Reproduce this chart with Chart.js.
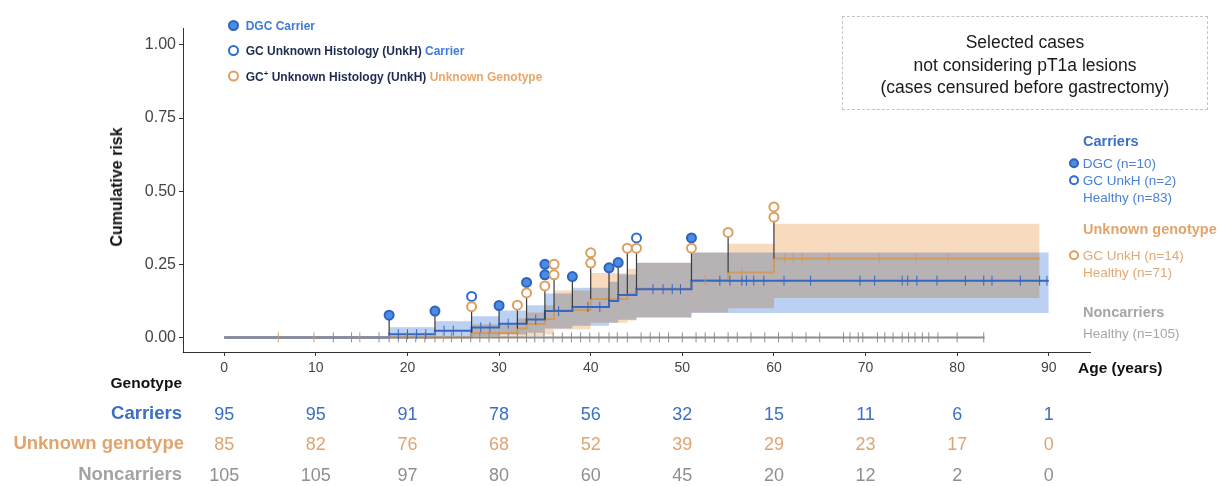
<!DOCTYPE html>
<html>
<head>
<meta charset="utf-8">
<title>Cumulative risk by genotype</title>
<script src="https://cdn.jsdelivr.net/npm/chart.js@4.4.1/dist/chart.umd.min.js"></script>
<style>
  html, body { margin: 0; padding: 0; background: #fff; }
  #wrap { position: relative; width: 1218px; height: 486px; overflow: hidden;
          font-family: 'Liberation Sans', Arial, sans-serif; }
  #km { position: absolute; left: 0; top: 0; }
  .t { position: absolute; white-space: nowrap; line-height: 1; transform: translateY(-50%); }
  .r { transform: translate(-100%, -50%); text-align: right; }
  .c { transform: translate(-50%, -50%); text-align: center; }
  .b { font-weight: bold; }
  .dot { display: inline-block; box-sizing: border-box; width: 11px; height: 11px; border-radius: 50%;
         border: 2px solid; vertical-align: middle; margin-top: -2px; }
  .dgc { background: #4b8be3; border-color: #2c63bd; }
  .unkb { background: #fff; border-color: #2f6cd0; }
  .unko { background: #fff; border-color: #dd9f60; }
  #note { position: absolute; left: 842px; top: 16px; width: 366px; height: 94px; box-sizing: border-box;
          border: 1px dashed #c4c4c4; text-align: center; font-size: 17.5px; line-height: 22.5px;
          color: #1a1a1a; padding-top: 14px; }
  #ytitle { position: absolute; left: 117px; top: 187px; transform: translate(-50%, -50%) rotate(-90deg);
            font-weight: bold; font-size: 16px; white-space: nowrap; color: #111; }
</style>
</head>
<body>
<div id="wrap">
  <canvas id="km" width="1218" height="486"></canvas>

  <div id="ytitle">Cumulative risk</div>

  <!-- marker key, top left -->
  <div class="t b" style="left:228px;top:26px;font-size:12px;color:#3d7bd9"><span class="dot dgc"></span>&nbsp; DGC Carrier</div>
  <div class="t b" style="left:228px;top:51px;font-size:12px;color:#1c2b4f"><span class="dot unkb"></span>&nbsp; GC Unknown Histology (UnkH) <span style="color:#3d7bd9">Carrier</span></div>
  <div class="t b" style="left:228px;top:76px;font-size:12px;color:#1c2b4f"><span class="dot unko"></span>&nbsp; GC<sup style="font-size:8px">+</sup> Unknown Histology (UnkH) <span style="color:#e8a76a">Unknown Genotype</span></div>

  <div id="note">Selected cases<br>not considering pT1a lesions<br>(cases censured before gastrectomy)</div>

  <!-- group key, right -->
  <div class="t b" style="left:1083px;top:141px;font-size:14.5px;color:#3b6fc8">Carriers</div>
  <div class="t" style="left:1069px;top:164px;font-size:13.5px;color:#4a80d6"><span class="dot dgc" style="width:10px;height:10px"></span> DGC (n=10)</div>
  <div class="t" style="left:1069px;top:181px;font-size:13.5px;color:#4a80d6"><span class="dot unkb" style="width:10px;height:10px"></span> GC UnkH (n=2)</div>
  <div class="t" style="left:1083px;top:198px;font-size:13.5px;color:#4a80d6">Healthy (n=83)</div>
  <div class="t b" style="left:1083px;top:229px;font-size:14.5px;color:#e1a56d">Unknown genotype</div>
  <div class="t" style="left:1069px;top:256px;font-size:13.5px;color:#e3a872"><span class="dot unko" style="width:10px;height:10px"></span> GC UnkH (n=14)</div>
  <div class="t" style="left:1083px;top:273px;font-size:13.5px;color:#e3a872">Healthy (n=71)</div>
  <div class="t b" style="left:1083px;top:312px;font-size:14.5px;color:#a6a6a6">Noncarriers</div>
  <div class="t" style="left:1083px;top:334px;font-size:13.5px;color:#a6a6a6">Healthy (n=105)</div>

  <div class="t b" style="left:1078px;top:368px;font-size:15.5px;color:#111">Age (years)</div>

  <!-- numbers at risk -->
  <div class="t r b" style="left:182px;top:383px;font-size:15.5px;color:#111">Genotype</div>
  <div class="t r b" style="left:182px;top:413px;font-size:18.5px;color:#3b6fc8">Carriers</div>
  <div class="t r b" style="left:184px;top:443px;font-size:18.5px;color:#e1a46c">Unknown genotype</div>
  <div class="t r b" style="left:182px;top:474px;font-size:18.5px;color:#a3a3a3">Noncarriers</div>
  <div id="risk"></div>
</div>

<script>
// axis ticks
const xTicks = [0, 10, 20, 30, 40, 50, 60, 70, 80, 90];
const yTicks = [0, 0.25, 0.5, 0.75, 1];

// numbers at risk, one value per x tick
const riskTimes = [0, 10, 20, 30, 40, 50, 60, 70, 80, 90];
const riskCarriers = [95, 95, 91, 78, 56, 32, 15, 11, 6, 1];
const riskUnknown = [85, 82, 76, 68, 52, 39, 29, 23, 17, 0];
const riskNoncarriers = [105, 105, 97, 80, 60, 45, 20, 12, 2, 0];

// cumulative risk curves (value holds from each age to the next)
const carrierAges = [0, 18, 23, 27, 30, 33, 35, 38, 42, 43, 45, 51, 90];
const carrierRisk = [0, 0.011, 0.023, 0.034, 0.047, 0.061, 0.090, 0.104, 0.124, 0.145, 0.165, 0.194, 0.194];
const unknownAges = [0, 27, 32, 33, 35, 36, 40, 44, 45, 51, 55, 60, 89];
const unknownRisk = [0, 0.015, 0.030, 0.046, 0.062, 0.094, 0.131, 0.149, 0.167, 0.196, 0.222, 0.270, 0.270];
const nonAges = [0, 83];
const nonRisk = [0, 0];

// 95% confidence bands
const carrierBandAges = [18, 23, 27, 30, 33, 35, 38, 42, 43, 45, 51, 90];
const carrierLower = [0, 0, 0.004, 0.010, 0.016, 0.030, 0.040, 0.050, 0.060, 0.068, 0.083, 0.083];
const carrierUpper = [0.035, 0.055, 0.072, 0.092, 0.110, 0.150, 0.170, 0.190, 0.215, 0.255, 0.290, 0.290];
const unknownBandAges = [27, 32, 33, 35, 36, 40, 44, 45, 51, 55, 60, 89];
const unknownLower = [0, 0, 0.004, 0.010, 0.028, 0.050, 0.058, 0.068, 0.085, 0.100, 0.135, 0.135];
const unknownUpper = [0.045, 0.065, 0.085, 0.110, 0.160, 0.220, 0.235, 0.255, 0.290, 0.320, 0.389, 0.389];

// censoring ages
const carrierCensor = [19, 20, 21, 22, 24, 25, 28, 29, 31, 32, 34, 36.5, 39.7, 41, 46.8, 47.9, 48.9, 49.8,
  54.1, 55.2, 56.5, 57, 57.8, 58.9, 61.1, 64, 69.4, 71, 74, 74.6, 75.6, 77.8, 80.9, 82.9, 83.8, 86.9, 89, 89.8];
const unknownCensor = [5.9, 9.8, 14.8, 23.9, 52.5, 56.5, 61.2, 62.1, 63.1, 66, 71.5, 75.5, 79];
const nonCensor = [11.9, 13.9, 16.9, 18, 19, 19.9, 20.9, 21.9, 23, 24.8, 25.9, 26.9, 27.9, 28.9, 30, 31, 32,
  33, 33.9, 34.9, 35.9, 36.9, 37.9, 38.9, 39.9, 40.9, 42, 42.9, 44, 45.5, 46.5, 47.5, 48.5, 50, 51.5, 52.5,
  53.5, 55, 56, 57.5, 59, 60.5, 62, 63.5, 65, 67.6, 68.3, 69.2, 69.7, 71.3, 72.1, 73, 74, 74.7, 75.4, 76.2,
  76.9, 77.9, 80, 82.9];

// gastric cancer events, stacked above the curves
const dgcAges = [18, 23, 30, 33, 35, 35, 38, 42, 43, 51];
const dgcY = [0.076, 0.090, 0.109, 0.188, 0.214, 0.250, 0.208, 0.238, 0.256, 0.340];
const unkhCarrierAges = [27, 45];
const unkhCarrierY = [0.140, 0.340];
const unkhUnknownAges = [27, 32, 33, 35, 36, 36, 40, 40, 44, 45, 51, 55, 60, 60];
const unkhUnknownY = [0.105, 0.110, 0.152, 0.176, 0.214, 0.250, 0.254, 0.289, 0.305, 0.305, 0.305, 0.359, 0.411, 0.446];

const BLUE = '#3567c4';
const ORANGE = '#d39a5e';
const GREY = '#8c8c8c';

const pts = (xs, ys) => xs.map((x, i) => ({ x, y: ys[i] }));

function stepAt(ages, vals, t) {
  let v = vals[0];
  for (let i = 0; i < ages.length; i++) if (ages[i] <= t) v = vals[i];
  return v;
}

const censorPts = (cens, ages, vals) => cens.map(t => ({ x: t, y: stepAt(ages, vals, t) }));

// stems: from the curve after the jump up to the lowest marker at that age
function buildStems() {
  const blueEv = dgcAges.concat(unkhCarrierAges);
  const ages = [...new Set(blueEv.concat(unkhUnknownAges))].sort((a, b) => a - b);
  const allAges = dgcAges.concat(unkhCarrierAges, unkhUnknownAges);
  const allY = dgcY.concat(unkhCarrierY, unkhUnknownY);
  const out = [];
  ages.forEach(a => {
    const tops = allY.filter((y, i) => allAges[i] === a);
    const bottoms = [];
    if (blueEv.includes(a)) bottoms.push(stepAt(carrierAges, carrierRisk, a));
    if (unkhUnknownAges.includes(a)) bottoms.push(stepAt(unknownAges, unknownRisk, a));
    out.push({ x: a, y: Math.min(...bottoms) }, { x: a, y: Math.min(...tops) }, { x: a, y: null });
  });
  return out;
}

// bands are filled in multiply mode so the overlap turns grey
const bandBlend = {
  id: 'bandBlend',
  beforeDraw(c) { c.ctx.globalCompositeOperation = 'multiply'; },
  beforeDatasetsDraw(c) { c.ctx.globalCompositeOperation = 'source-over'; },
};

const bandLine = { type: 'line', stepped: true, borderWidth: 0, pointRadius: 0 };
const curve = { type: 'line', stepped: true, borderWidth: 2, pointRadius: 0, fill: false };
const tick = { type: 'scatter', pointStyle: 'line', rotation: 90, pointRadius: 5, borderWidth: 1 };
const marker = { type: 'scatter', pointStyle: 'circle', pointRadius: 4.5, borderWidth: 2 };

Chart.defaults.font.family = "'Liberation Sans', Arial, sans-serif";

const chart = new Chart(document.getElementById('km'), {
  type: 'line',
  data: {
    datasets: [
      { ...bandLine, data: pts(carrierBandAges, carrierUpper), fill: '+1', backgroundColor: '#bcd0f2', order: 12 },
      { ...bandLine, data: pts(carrierBandAges, carrierLower), fill: false, order: 12 },
      { ...bandLine, data: pts(unknownBandAges, unknownUpper), fill: '+1', backgroundColor: '#f8dbbe', order: 11 },
      { ...bandLine, data: pts(unknownBandAges, unknownLower), fill: false, order: 11 },

      { ...curve, data: pts(unknownAges, unknownRisk), borderColor: ORANGE, order: 8 },
      { ...curve, data: pts(carrierAges, carrierRisk), borderColor: BLUE, order: 7 },
      { ...curve, data: pts(nonAges, nonRisk), borderColor: GREY, order: 6 },

      { ...tick, data: censorPts(nonCensor, nonAges, nonRisk), borderColor: GREY, order: 5 },
      { ...tick, data: censorPts(unknownCensor, unknownAges, unknownRisk), borderColor: ORANGE, order: 4 },
      { ...tick, data: censorPts(carrierCensor, carrierAges, carrierRisk), borderColor: BLUE, order: 4 },

      { type: 'line', data: buildStems(), borderColor: '#3a3a3a', borderWidth: 1.2, pointRadius: 0, fill: false, spanGaps: false, order: 2 },

      { ...marker, data: pts(unkhUnknownAges, unkhUnknownY), backgroundColor: '#fff', borderColor: '#dd9f60', order: 1 },
      { ...marker, data: pts(unkhCarrierAges, unkhCarrierY), backgroundColor: '#fff', borderColor: '#2f6cd0', order: 1 },
      { ...marker, data: pts(dgcAges, dgcY), backgroundColor: '#4b8be3', borderColor: '#2c63bd', order: 1 },
    ]
  },
  plugins: [bandBlend],
  options: {
    responsive: false,
    animation: false,
    devicePixelRatio: 1,
    events: [],
    layout: { padding: { left: 100, top: 28, right: 128, bottom: 104 } },
    plugins: {
      legend: { display: false },
      tooltip: { enabled: false },
      filler: { drawTime: 'beforeDatasetsDraw' },
    },
    scales: {
      x: {
        type: 'linear', min: -4.5, max: 94.5,
        afterBuildTicks: s => { s.ticks = xTicks.map(v => ({ value: v })); },
        afterFit: s => { s.height = 30; },
        grid: { drawOnChartArea: false, drawTicks: true, tickLength: 4, tickColor: '#333' },
        border: { display: true, color: '#333', width: 1 },
        ticks: { color: '#444', font: { size: 14 }, padding: 4, maxRotation: 0, autoSkip: false, callback: v => v },
      },
      y: {
        type: 'linear', min: -0.05, max: 1.058,
        afterBuildTicks: s => { s.ticks = yTicks.map(v => ({ value: v })); },
        afterFit: s => { s.width = 83; },
        grid: { drawOnChartArea: false, drawTicks: true, tickLength: 4, tickColor: '#333' },
        border: { display: true, color: '#333', width: 1 },
        ticks: { color: '#444', font: { size: 16 }, padding: 3, callback: v => v.toFixed(2) },
      }
    }
  }
});

// numbers-at-risk table, placed under the x ticks
const riskRows = [
  { vals: riskCarriers, y: 414, color: '#3b6fc8' },
  { vals: riskUnknown, y: 444, color: '#dfa470' },
  { vals: riskNoncarriers, y: 475, color: '#8f8f8f' },
];
const riskBox = document.getElementById('risk');
riskRows.forEach(row => {
  row.vals.forEach((v, i) => {
    const d = document.createElement('div');
    d.className = 't c';
    d.style.left = chart.scales.x.getPixelForValue(riskTimes[i]) + 'px';
    d.style.top = row.y + 'px';
    d.style.fontSize = '18px';
    d.style.color = row.color;
    d.textContent = v;
    riskBox.appendChild(d);
  });
});
</script>
</body>
</html>
